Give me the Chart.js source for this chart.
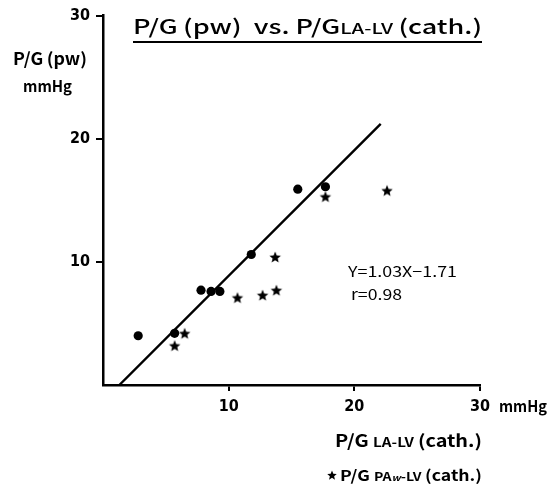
<!DOCTYPE html>
<html>
<head>
<meta charset="utf-8">
<script src="https://cdn.jsdelivr.net/npm/chart.js"></script>
<title>P/G(pw) vs. P/G LA-LV (cath.)</title>
<style>
  html, body { margin: 0; padding: 0; background: #fff; }
  #wrap { width: 558px; height: 485px; }
</style>
</head>
<body>
<div id="wrap"><canvas id="pgChart" width="558" height="485"></canvas></div>
<script>
// values (mmHg)
const circleX = [2.8, 5.7, 7.8, 8.6, 9.3, 11.8, 15.5, 17.7];
const circleY = [4.0, 4.2, 7.7, 7.6, 7.6, 10.6, 15.9, 16.1];
const starX = [5.7, 6.5, 10.7, 12.7, 13.8, 13.7, 17.7, 22.6];
const starY = [3.2, 4.2, 7.1, 7.3, 7.7, 10.4, 15.3, 15.8];
// regression line as drawn (end points)
const fitX = [1.3, 22.1];
const fitY = [0, 21.2];
const tickVals = [10, 20, 30];

function pairs(xs, ys) {
  return xs.map(function (x, i) { return { x: x, y: ys[i] }; });
}

// filled 5-point star for the PAw-LV points
function makeStar(r) {
  var c = document.createElement('canvas');
  var s = Math.ceil(r * 2 + 2);
  c.width = s; c.height = s;
  var g = c.getContext('2d');
  g.translate(s / 2, s / 2 + 0.6);
  g.beginPath();
  for (var i = 0; i < 10; i++) {
    var rad = i % 2 ? r * 0.45 : r;
    var a = -Math.PI / 2 + i * Math.PI / 5;
    g.lineTo(Math.cos(a) * rad, Math.sin(a) * rad);
  }
  g.closePath();
  g.fillStyle = '#000';
  g.fill();
  return c;
}
var starImg = makeStar(6);
var legendStar = makeStar(5);

// draw text pieces in a row, squeezed to a given width
function runs(ctx, x, y, parts, width) {
  var w = 0;
  parts.forEach(function (p) { ctx.font = p[1]; w += ctx.measureText(p[0]).width; });
  var k = width ? width / w : 1;
  ctx.save();
  ctx.translate(x, y);
  ctx.scale(k, 1);
  var cx = 0;
  parts.forEach(function (p) {
    ctx.font = p[1];
    ctx.fillText(p[0], cx, 0);
    cx += ctx.measureText(p[0]).width;
  });
  ctx.restore();
}

var JP = '"Noto Sans CJK JP", "Noto Sans", sans-serif';

var textPlugin = {
  id: 'texts',
  afterDraw: function (chart) {
    var ctx = chart.ctx;
    ctx.save();
    ctx.fillStyle = '#000';
    ctx.textBaseline = 'alphabetic';
    ctx.textAlign = 'left';

    // title + underline
    runs(ctx, 133, 34, [
      ['P/G\u2009(pw)', '500 20px ' + JP],
      ['  vs. ', '500 20px ' + JP],
      ['P/G', '500 20px ' + JP],
      ['LA-LV', '500 15px ' + JP],
      ['\u2009(cath.)', '500 20px ' + JP]
    ], 349);
    ctx.fillRect(133, 41, 349, 2);

    // y axis title
    runs(ctx, 13, 65, [['P/G\u2009(pw)', 'bold 17px ' + JP]], 74);
    runs(ctx, 23, 92, [['mmHg', 'bold 16px ' + JP]], 49);

    // x axis unit + title
    runs(ctx, 499, 412, [['mmHg', 'bold 16px ' + JP]], 48);
    runs(ctx, 335, 447, [
      ['P/G ', 'bold 17px ' + JP],
      ['LA-LV', 'bold 13px ' + JP],
      ['\u2009(cath.)', 'bold 17px ' + JP]
    ], 147);

    // legend for stars
    ctx.drawImage(legendStar, 326, 469);
    runs(ctx, 340, 481, [
      ['P/G ', 'bold 15px ' + JP],
      ['PA', 'bold 12px ' + JP],
      ['w', 'italic bold 9px ' + JP],
      ['-LV', 'bold 12px ' + JP],
      ['\u2009(cath.)', 'bold 15px ' + JP]
    ], 142);

    // regression equation
    runs(ctx, 348, 277, [['Y=1.03X−1.71', '15px ' + JP]], 109);
    runs(ctx, 351, 300, [['r=0.98', '15px ' + JP]], 51);
    ctx.restore();
  }
};

function tickColor(c) {
  return c.tick && c.tick.value === 0 ? 'rgba(0,0,0,0)' : '#000';
}

var axisFont = { family: '"DejaVu Sans Condensed", "DejaVu Sans", sans-serif', size: 16, weight: 'bold' };

new Chart(document.getElementById('pgChart'), {
  type: 'scatter',
  data: {
    datasets: [
      {
        label: 'P/G LA-LV (cath.)',
        data: pairs(circleX, circleY),
        pointStyle: 'circle',
        pointRadius: 4.6,
        backgroundColor: '#000',
        borderColor: '#000',
        borderWidth: 0,
        order: 1
      },
      {
        label: 'P/G PAw-LV (cath.)',
        data: pairs(starX, starY),
        pointStyle: starImg,
        pointRadius: 6,
        order: 1
      },
      {
        type: 'line',
        label: 'fit',
        data: pairs(fitX, fitY),
        borderColor: '#000',
        borderWidth: 2.4,
        pointRadius: 0,
        fill: false,
        order: 2
      }
    ]
  },
  options: {
    responsive: false,
    animation: false,
    layout: { padding: { top: 13, right: 78, left: 0, bottom: 0 } },
    plugins: { legend: { display: false }, tooltip: { enabled: false } },
    scales: {
      x: {
        type: 'linear', min: 0, max: 30,
        afterFit: function (s) { s.height = 100; },
        afterBuildTicks: function (s) { s.ticks = [0].concat(tickVals).map(function (v) { return { value: v }; }); },
        border: { display: true, color: '#000', width: 2.5 },
        grid: { display: true, drawOnChartArea: false, drawTicks: true, tickLength: 6, lineWidth: 2, color: tickColor },
        ticks: {
          color: '#000', font: axisFont, padding: 6, maxRotation: 0,
          callback: function (v) { return v === 0 ? '' : v; }
        }
      },
      y: {
        type: 'linear', min: 0, max: 30,
        afterFit: function (s) { s.width = 103; },
        afterBuildTicks: function (s) { s.ticks = [0].concat(tickVals).map(function (v) { return { value: v }; }); },
        border: { display: true, color: '#000', width: 2.5 },
        grid: { display: true, drawOnChartArea: false, drawTicks: true, tickLength: 7, lineWidth: 2, color: tickColor },
        ticks: {
          color: '#000', font: axisFont, padding: 6,
          callback: function (v) { return v === 0 ? '' : v; }
        }
      }
    }
  },
  plugins: [textPlugin]
});
</script>
</body>
</html>
